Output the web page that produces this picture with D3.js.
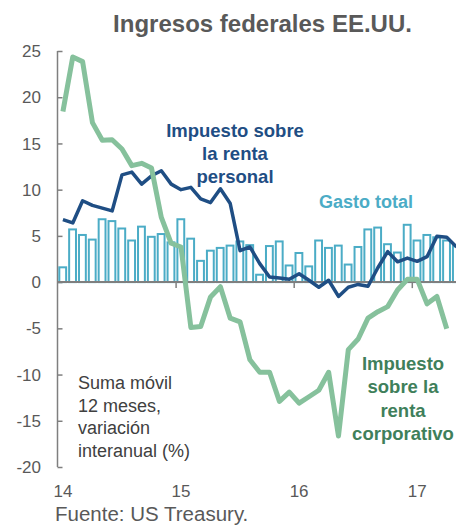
<!DOCTYPE html>
<html>
<head>
<meta charset="utf-8">
<script src="https://cdn.jsdelivr.net/npm/d3@7"></script>
<style>
  body { margin: 0; background: #fff; }
  svg { display: block; font-family: "Liberation Sans", Arial, sans-serif; }
</style>
</head>
<body>
<svg id="chart" width="456" height="525"></svg>
<script>
// Ingresos federales EE.UU. - suma móvil 12 meses, variación interanual (%)

// meses ene-2014 .. may-2017
const months = d3.range(41).map((i) => {
    const y = 2014 + Math.floor(i / 12);
    const m = (i % 12) + 1;
    return y + "-" + String(m).padStart(2, "0");
});

const gastoTotal = [1.6, 5.7, 5.1, 4.6, 6.8, 6.6, 5.8, 4.5, 6.0, 4.9,
    5.2, 4.3, 6.8, 4.7, 2.3, 3.4, 3.7, 3.95, 4.4, 4.0,
    0.8, 3.9, 4.4, 1.8, 3.15, 1.7, 4.5, 3.7, 3.95, 1.9,
    3.8, 5.7, 5.9, 4.1, 3.2, 6.2, 4.5, 5.1, 4.85, 4.5, 3.9];

const rentaPersonal = [6.76, 6.4, 8.8, 8.3, 8.0, 7.7, 11.6, 11.9, 10.6, 11.5,
    12.05, 10.6, 10.0, 10.25, 9.0, 8.6, 10.1, 8.5, 3.4, 3.8,
    2.0, 0.55, 0.45, 0.3, 0.9, 0.2, -0.55, 0.2, -1.55, -0.55,
    -0.25, -0.45, 1.55, 3.3, 2.2, 2.6, 2.25, 2.75, 4.95, 4.85, 3.8];

const rentaCorporativo = [18.45, 24.35, 23.85, 17.25, 15.35, 15.4, 14.4, 12.6, 12.85, 12.35,
    7.0, 4.2, 3.8, -4.9, -4.8, -1.6, -0.5, -3.9, -4.3, -8.4,
    -9.75, -9.75, -12.9, -11.9, -13.1, -12.4, -11.7, -9.75, -16.65, -7.3,
    -6.15, -3.9, -3.2, -2.65, -0.85, 0.3, 0.3, -2.35, -1.55, -5.05];

const yTicks = [25, 20, 15, 10, 5, 0, -5, -10, -15, -20];
const yearTicks = [{ month: "2014-01", label: "14" }, { month: "2015-01", label: "15" },
    { month: "2016-01", label: "16" }, { month: "2017-01", label: "17" }];

const svg = d3.select("#chart");
const gray = "#595959";
const axisGray = "#7f7f7f";

const x = d3.scaleBand().domain(months).range([58, 461.5]).padding(0);
const y = d3.scaleLinear().domain([-20, 25]).range([467, 51]);
const cx = (m) => x(m) + x.bandwidth() / 2;

// titulo
svg.append("text")
    .attr("x", 262.5).attr("y", 32)
    .attr("text-anchor", "middle")
    .attr("font-size", 24).attr("font-weight", "bold")
    .attr("fill", gray)
    .text("Ingresos federales EE.UU.");

// eje y
const yAxis = svg.append("g")
    .attr("transform", "translate(57.5,0)")
    .call(d3.axisRight(y).tickValues(yTicks).tickSize(5).tickFormat(""));
yAxis.select(".domain").attr("stroke", axisGray).attr("stroke-width", 1.5)
    .attr("d", `M0,${y(25)}V${y(-20)}`);
yAxis.selectAll(".tick line").attr("stroke", axisGray).attr("stroke-width", 1.5);

svg.append("g").selectAll("text")
    .data(yTicks)
    .join("text")
    .attr("x", 41).attr("y", (d) => y(d))
    .attr("dy", "0.36em")
    .attr("text-anchor", "end")
    .attr("font-size", 17).attr("fill", gray)
    .text((d) => d);

// barras gasto total
svg.append("g").selectAll("rect")
    .data(gastoTotal)
    .join("rect")
    .attr("x", (d, i) => x(months[i]) + 1.3)
    .attr("width", x.bandwidth() - 3)
    .attr("y", (d) => y(d))
    .attr("height", (d) => y(0) - y(d))
    .attr("fill", "#fff")
    .attr("stroke", "#4bacc6")
    .attr("stroke-width", 2);

// linea de cero y marcas de año
svg.append("line")
    .attr("x1", 57).attr("x2", 456)
    .attr("y1", y(0)).attr("y2", y(0))
    .attr("stroke", axisGray).attr("stroke-width", 2);

svg.append("g").selectAll("line")
    .data(yearTicks.slice(1))
    .join("line")
    .attr("x1", (d) => x(d.month)).attr("x2", (d) => x(d.month))
    .attr("y1", y(0)).attr("y2", y(0) + 6)
    .attr("stroke", axisGray).attr("stroke-width", 1.5);

svg.append("g").selectAll("text")
    .data(yearTicks)
    .join("text")
    .attr("x", (d) => cx(d.month)).attr("y", 497)
    .attr("text-anchor", "middle")
    .attr("font-size", 17).attr("fill", gray)
    .text((d) => d.label);

// lineas
const line = d3.line()
    .x((d, i) => cx(months[i]))
    .y((d) => y(d));

svg.append("path")
    .datum(rentaPersonal)
    .attr("d", line)
    .attr("fill", "none")
    .attr("stroke", "#1f4e84")
    .attr("stroke-width", 3.5)
    .attr("stroke-linejoin", "round");

svg.append("path")
    .datum(rentaCorporativo)
    .attr("d", line)
    .attr("fill", "none")
    .attr("stroke", "#86c19c")
    .attr("stroke-width", 5)
    .attr("stroke-linejoin", "round");

// etiquetas
function label(lines, xPos, yStart, step, color, anchor, weight, size) {
    svg.append("g").selectAll("text")
        .data(lines)
        .join("text")
        .attr("x", xPos)
        .attr("y", (d, i) => yStart + i * step)
        .attr("text-anchor", anchor)
        .attr("font-size", size)
        .attr("font-weight", weight)
        .attr("fill", color)
        .text((d) => d);
}

label(["Impuesto sobre", "la renta", "personal"], 235, 137, 23, "#1f4e84", "middle", "bold", 18.5);
label(["Gasto total"], 319, 208, 0, "#4bacc6", "start", "bold", 18);
label(["Impuesto", "sobre la", "renta", "corporativo"], 403, 370, 23.3, "#3f7f5b", "middle", "bold", 18.5);
label(["Suma móvil", "12 meses,", "variación", "interanual (%)"], 78, 389, 22.5, "#404040", "start", "normal", 18);

svg.append("text")
    .attr("x", 55).attr("y", 521)
    .attr("font-size", 20.5).attr("fill", gray)
    .text("Fuente: US Treasury.");
</script>
</body>
</html>
